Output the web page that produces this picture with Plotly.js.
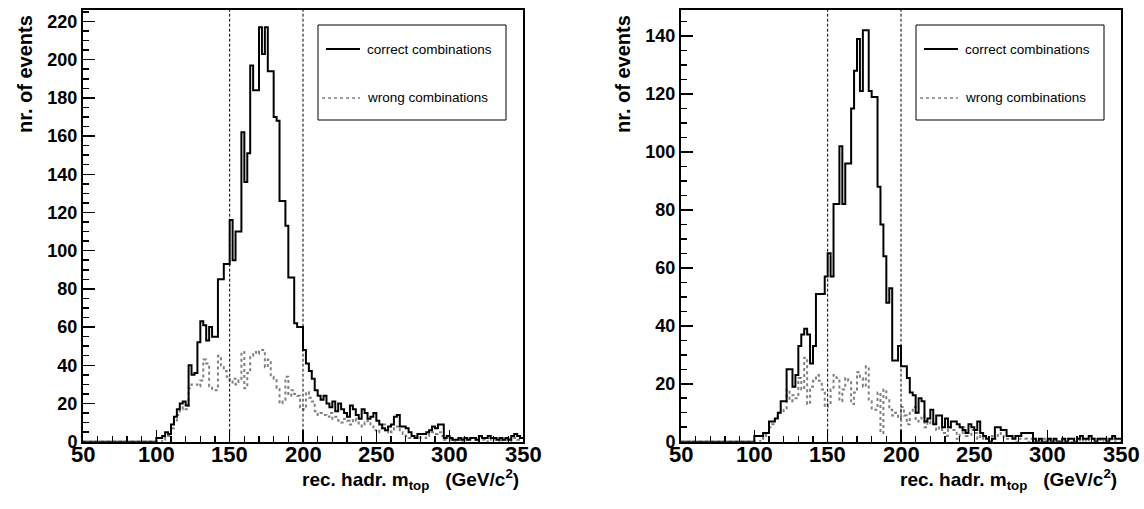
<!DOCTYPE html>
<html>
<head>
<meta charset="utf-8">
<script src="https://cdn.plot.ly/plotly-3.0.1.min.js"></script>
<style>
html,body{margin:0;padding:0;background:#fff;}
#chart{width:1144px;height:509px;}
</style>
</head>
<body>
<div id="chart"></div>
<script>
// Histogram binning: 150 bins of 2 GeV from 50 to 350
const binLow = 50;
const binWidth = 2;

// Left panel (bins 50..98 are empty, then 100..348)
const zeros25 = [0,0,0,0,0,0,0,0,0,0,0,0,0,0,0,0,0,0,0,0,0,0,0,0,0];
const leftCorrect = zeros25.concat([
  2,2,3,5,4,9,13,17,20,21,
  19,40,35,36,52,63,61,53,60,55,
  55,85,85,93,93,116,95,110,110,162,
  136,151,197,184,184,217,203,217,194,194,
  170,168,126,126,113,86,86,62,60,60,
  48,41,37,33,27,24,22,24,20,18,
  21,16,20,17,15,13,19,17,14,12,
  17,15,12,13,15,11,9,7,6,8,
  9,13,14,8,8,7,5,3,2,4,
  4,4,5,6,8,7,9,9,2,3,
  2,1,1,2,1,2,1,2,2,1,
  3,2,2,3,2,2,1,2,1,2,
  1,3,4,3,2
]);
const leftWrong = zeros25.concat([
  0,0,1,2,3,7,10,14,17,18,
  17,28,30,30,29,32,43,41,29,27,
  27,45,39,37,34,31,33,30,32,47,
  28,36,45,47,46,48,48,39,43,34,
  33,28,20,22,34,24,27,25,24,18,
  17,26,23,21,16,14,15,14,13,15,
  12,13,11,10,12,11,9,12,10,9,
  8,10,11,8,6,5,7,9,5,6,
  5,7,8,5,4,3,2,3,2,3,
  2,2,3,4,5,4,5,3,1,1,
  1,0,1,1,0,1,1,2,1,0,
  1,1,0,1,2,1,1,0,1,1,
  0,1,2,1,1
]);

// Right panel
const rightCorrect = zeros25.concat([
  2,2,2,3,3,7,7,8,10,14,
  14,25,25,19,23,33,37,39,37,27,
  33,51,51,51,57,65,57,82,82,102,
  82,96,96,115,128,139,121,142,142,121,
  119,119,88,75,64,48,53,28,28,33,
  26,26,22,17,16,10,15,14,7,8,
  11,6,9,9,5,8,5,7,7,6,
  5,4,3,6,5,4,7,3,2,1,
  0,1,5,5,4,4,2,2,1,2,
  2,3,3,3,3,1,0,1,0,0,
  1,0,1,0,0,1,0,1,1,0,
  1,2,1,1,2,1,0,1,1,1,
  0,1,2,1,1
]);
const rightWrong = zeros25.concat([
  0,0,1,2,3,5,6,8,10,10,
  11,18,14,16,15,22,18,29,13,19,
  21,23,21,18,12,13,18,23,22,14,
  18,22,21,13,17,24,22,19,26,14,
  11,11,17,3,18,15,11,9,10,8,
  12,9,6,10,12,7,8,9,5,7,
  6,7,4,5,3,2,5,4,4,1,
  3,5,2,2,4,3,1,2,1,1,
  0,2,1,3,2,1,1,1,2,0,
  1,1,1,0,1,0,0,0,1,0,
  0,1,0,0,1,0,0,1,0,0,
  1,0,1,0,1,1,0,0,1,0,
  1,0,1,0,0
]);

const cutLines = [150, 200];
const legendLabels = ["correct combinations", "wrong combinations"];
const xTitle = "rec. hadr. m<sub>top</sub>&nbsp;&nbsp;&nbsp;(GeV/c<sup>2</sup>)";
const yTitle = "nr. of events";
const xTickVals = [50,100,150,200,250,300,350];
const yRanges = [[0,226],[0,149]];

function stepTrace(vals, xa, ya, color, dash, width) {
  const n = vals.length;
  const xs = [], ys = [];
  for (let i = 0; i <= n; i++) {
    xs.push(binLow + i*binWidth);
    ys.push(i < n ? vals[i] : vals[n-1]);
  }
  return {type:'scatter', mode:'lines', x:xs, y:ys, xaxis:xa, yaxis:ya,
    line:{shape:'hv', color:color, width:width, dash:dash}, showlegend:false, hoverinfo:'skip'};
}

const W = 1144, H = 509;
const frames = [{x0:83, x1:523}, {x0:681, x1:1121}];
const yTop = 10, yBot = 441.7;

const traces = [
  stepTrace(leftWrong, 'x', 'y', '#808080', '3px,3px', 2),
  stepTrace(leftCorrect, 'x', 'y', '#000', 'solid', 2),
  stepTrace(rightWrong, 'x2', 'y2', '#808080', '3px,3px', 2),
  stepTrace(rightCorrect, 'x2', 'y2', '#000', 'solid', 2)
];

const FAM = 'Liberation Sans, Arial, Helvetica, sans-serif';
const xTickFont = {family:FAM, size:22, color:'#000', weight:'bold'};
const yTickFont = {family:FAM, size:18, color:'#000', weight:'bold'};
function xaxis(i, anchor) {
  return {domain:[frames[i].x0/W, frames[i].x1/W], range:[50,350], anchor:anchor,
    tickmode:'array', tickvals:xTickVals, ticks:'inside', ticklen:12, tickwidth:1.5, tickcolor:'#000',
    minor:{dtick:10, tick0:50, ticks:'inside', ticklen:6, tickwidth:1.5, tickcolor:'#000', showgrid:false},
    showline:true, mirror:true, linecolor:'#000', linewidth:2, showgrid:false, zeroline:false,
    showticklabels:false, fixedrange:true};
}
function yaxis(i, anchor) {
  return {domain:[1-yBot/H, 1-yTop/H], range:yRanges[i], anchor:anchor,
    dtick:20, tick0:0, ticks:'inside', ticklen:12, tickwidth:1.5, tickcolor:'#000',
    minor:{dtick:5, tick0:0, ticks:'inside', ticklen:6, tickwidth:1.5, tickcolor:'#000', showgrid:false},
    showline:true, mirror:true, linecolor:'#000', linewidth:2, showgrid:false, zeroline:false,
    tickfont:yTickFont, fixedrange:true};
}

const shapes = [];
const annotations = [];
const xaxNames = ['x','x2'];
frames.forEach((f, i) => {
  cutLines.forEach(v => {
    shapes.push({type:'line', xref:xaxNames[i], yref:(i===0?'y':'y2')+' domain', x0:v, x1:v, y0:0, y1:1,
      line:{color:'#000', width:1, dash:'3px,2px'}});
  });
  // x tick labels placed through the axis scale
  xTickVals.forEach(v => {
    annotations.push({xref:xaxNames[i], yref:'paper', x:v, y:1-440/H, xanchor:'center', yanchor:'top',
      text:String(v), showarrow:false, font:xTickFont});
  });
  // legend box
  const bx0 = f.x0 + 235, bx1 = f.x0 + 423, by0 = 25, by1 = 120;
  shapes.push({type:'rect', xref:'paper', yref:'paper', x0:bx0/W, x1:bx1/W, y0:1-by1/H, y1:1-by0/H,
    line:{color:'#000', width:1}, fillcolor:'#fff'});
  const rows = [49, 98];
  shapes.push({type:'line', xref:'paper', yref:'paper', x0:(bx0+8)/W, x1:(bx0+42)/W, y0:1-rows[0]/H, y1:1-rows[0]/H,
    line:{color:'#000', width:2}});
  shapes.push({type:'line', xref:'paper', yref:'paper', x0:(bx0+4)/W, x1:(bx0+42)/W, y0:1-rows[1]/H, y1:1-rows[1]/H,
    line:{color:'#808080', width:1.5, dash:'3px,3px'}});
  legendLabels.forEach((t, k) => {
    annotations.push({xref:'paper', yref:'paper', x:(bx0+47)/W, y:1-rows[k]/H, xanchor:'left', yanchor:'middle',
      text:t, showarrow:false, font:{family:FAM, size:13.5, color:'#000'}});
  });
  // axis titles
  annotations.push({xref:'paper', yref:'paper', x:(f.x1-2)/W, y:1-479/H, xanchor:'right', yanchor:'middle',
    text:xTitle, showarrow:false, font:{family:FAM, size:19, color:'#000', weight:'bold'}});
  annotations.push({xref:'paper', yref:'paper', x:(f.x0-58)/W, y:1-13/H, xanchor:'center', yanchor:'top', textangle:-90,
    text:yTitle, showarrow:false, font:{family:FAM, size:20, color:'#000', weight:'bold'}});
});

const layout = {
  width:W, height:H, margin:{l:0,r:0,t:0,b:0}, paper_bgcolor:'#fff', plot_bgcolor:'#fff',
  showlegend:false,
  xaxis:xaxis(0,'y'), yaxis:yaxis(0,'x'),
  xaxis2:xaxis(1,'y2'), yaxis2:yaxis(1,'x2'),
  shapes:shapes, annotations:annotations
};

Plotly.newPlot('chart', traces, layout, {displayModeBar:false, staticPlot:true});
</script>
</body>
</html>
